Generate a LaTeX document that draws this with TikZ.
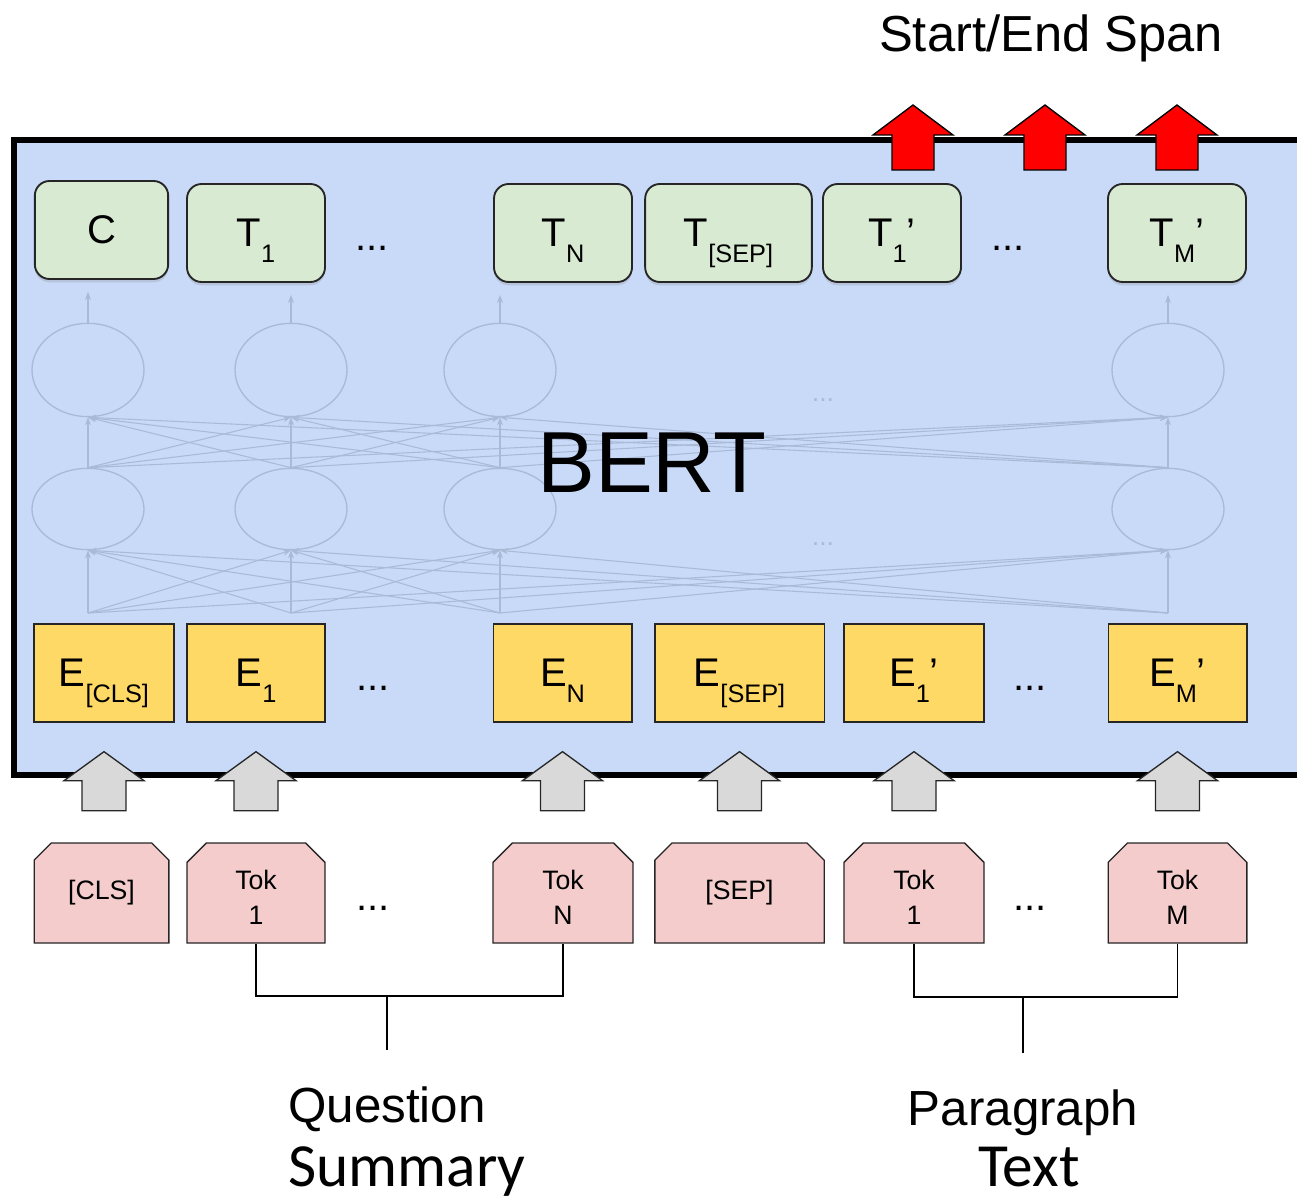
\documentclass[tikz,border=0pt]{standalone}
\usepackage{fontspec}
\setmainfont{Liberation Sans}
\newfontfamily\calibri{Carlito}
\usetikzlibrary{arrows.meta,calc,shapes.geometric,shapes.misc,shadows}
\definecolor{bertblue}{HTML}{C9DAF8}
\definecolor{outgreen}{HTML}{D9EAD3}
\definecolor{embyellow}{HTML}{FFD966}
\definecolor{tokpink}{HTML}{F4CCCC}
\definecolor{arrowgrey}{HTML}{D9D9D9}
\definecolor{faint}{HTML}{A9BAD7}
\newcommand{\lsub}[2]{#1\raisebox{-12pt}[0pt][0pt]{\fontsize{19}{22}\selectfont #2}}
\newcommand{\lsubp}[2]{#1\raisebox{-12pt}[0pt][0pt]{\fontsize{19}{22}\selectfont #2}’}
\newcommand{\toklbl}[1]{\raisebox{-5.25pt}[\height][\depth]{\begin{tabular}{@{}c@{}}Tok\\#1\end{tabular}}}
\begin{document}
\begin{tikzpicture}[x=0.75pt,y=0.75pt,yscale=-1,xscale=1,
    outbox/.style={draw=black!85,line width=1.4pt,fill=outgreen,rounded corners=11pt,minimum height=73.5pt,inner sep=0pt,
      drop shadow={shadow xshift=0pt,shadow yshift=-2.5pt,opacity=0.25},font=\fontsize{30}{36}\selectfont},
    embbox/.style={draw=black!85,line width=1pt,fill=embyellow,minimum height=73.5pt,inner sep=0pt,font=\fontsize{30}{36}\selectfont},
    tokbox/.style={draw=black!85,line width=1pt,fill=tokpink,chamfered rectangle,chamfered rectangle corners={north west,north east},
      chamfered rectangle xsep=11pt,minimum height=75pt,inner sep=0pt,align=center,font=\fontsize{20}{26}\selectfont},
    neuron/.style={ellipse,draw=faint,line width=1pt,minimum width=84pt,inner sep=0pt},
    faintarrow/.style={draw=faint,line width=0.8pt,-{Stealth[length=6pt,width=4.5pt]}},
    dots/.style={font=\fontsize{30}{36}\selectfont},
    blockarrow/.style={line width=1pt,draw=black!85,line join=miter},
    label/.style={anchor=base,font=\fontsize{37}{44}\selectfont}]
\path[use as bounding box] (0,0) rectangle (1297,1202);
\clip (0,0) rectangle (1297,1202);
\draw[line width=4.5pt,fill=bertblue] (14,140) rectangle (1340,775);

\foreach \i/\x in {1/88,2/291,3/500,4/1168}{
    \node[neuron,minimum height=70pt] (u\i) at (\x,370) {};
    \node[neuron,minimum height=61pt] (l\i) at (\x,509) {};
    \coordinate (b\i) at (\x,613);
}
\foreach \i in {1,...,4}{
    \foreach \j in {1,...,4}{
        \draw[faintarrow] (l\i.north) -- (l\j.north |- u\j.south);
        \draw[faintarrow] (b\i) -- (l\j.south);
    }
}
\node[text=faint,font=\fontsize{20}{24}\selectfont] (fdots1) at (823,400) {...};
\node[text=faint,font=\fontsize{20}{24}\selectfont] (fdots2) at (823,544) {...};
\node[font=\fontsize{65}{78}\selectfont] (bert) at (652,463) {BERT};

\node[outbox,minimum width=100pt] (tcls) at (101.5,230) {C};
\node[outbox,minimum width=103.5pt] (t1) at (256,233) {\lsub{T}{1}};
\node[outbox,minimum width=103.5pt] (tn) at (563,233) {\lsub{T}{N}};
\node[outbox,minimum width=125pt] (tsep) at (728.5,233) {\lsub{T}{[SEP]}};
\node[outbox,minimum width=103.5pt] (t1p) at (892,233) {\lsubp{T}{1}};
\node[outbox,minimum width=103.5pt] (tmp) at (1177,233) {\lsubp{T}{M}};
\draw[faintarrow,shorten >=9pt] (u1.north) -- (u1.north |- tcls.south);
\draw[faintarrow,shorten >=9pt] (u2.north) -- (u2.north |- t1.south);
\draw[faintarrow,shorten >=9pt] (u3.north) -- (u3.north |- tn.south);
\draw[faintarrow,shorten >=9pt] (u4.north) -- (u4.north |- tmp.south);

\node[embbox,minimum width=105pt] (ecls) at (104,673) {\lsub{E}{[CLS]}};
\node[embbox,minimum width=103.5pt] (e1) at (256,673) {\lsub{E}{1}};
\node[embbox,minimum width=104pt] (en) at (562.5,673) {\lsub{E}{N}};
\node[embbox,minimum width=127pt] (esep) at (739.5,673) {\lsub{E}{[SEP]}};
\node[embbox,minimum width=105pt] (e1p) at (914,673) {\lsubp{E}{1}};
\node[embbox,minimum width=104pt] (emp) at (1177.5,673) {\lsubp{E}{M}};

\node[tokbox,minimum width=101pt] (tokcls) at (101.5,893) {[CLS]};
\node[tokbox,minimum width=103.5pt] (tok1) at (256,893) {\toklbl{1}};
\node[tokbox,minimum width=105pt] (tokn) at (563,893) {\toklbl{N}};
\node[tokbox,minimum width=127pt] (toksep) at (739.5,893) {[SEP]};
\node[tokbox,minimum width=105pt] (tok1p) at (914,893) {\toklbl{1}};
\node[tokbox,minimum width=104pt] (tokm) at (1177.5,893) {\toklbl{M}};

\node[dots] (tdots1) at (372,248) {...};
\node[dots] (tdots2) at (1008,248) {...};
\node[dots] (edots1) at (373,688) {...};
\node[dots] (edots2) at (1030,688) {...};
\node[dots] (kdots1) at (373,908) {...};
\node[dots] (kdots2) at (1030,908) {...};

\foreach \e in {ecls,e1,en,esep,e1p,emp}
    \draw[blockarrow,fill=arrowgrey] ($(\e.south)+(0,29)$) -- ++(40,29) -- ++(-18,0) -- ++(0,30) -- ++(-44,0) -- ++(0,-30) -- ++(-18,0) -- cycle;
\foreach \cx in {913,1045,1177}
    \draw[blockarrow,draw=black,fill=red] (\cx,105) -- ++(40,30) -- ++(-19,0) -- ++(0,35) -- ++(-42,0) -- ++(0,-35) -- ++(-19,0) -- cycle;

\coordinate (qjoin) at (387,996);
\coordinate (qend) at (387,1050);
\coordinate (pjoin) at (1023,997);
\coordinate (pend) at (1023,1053);
\draw[line width=1.2pt] (tok1.south) |- (qjoin) -| (tokn.south);
\draw[line width=1.2pt] (qjoin) -- (qend);
\draw[line width=1.2pt] (tok1p.south) |- (pjoin) -| (tokm.south);
\draw[line width=1.2pt] (pjoin) -- (pend);

\node[label,font=\fontsize{38}{46}\selectfont] (span) at (1051,52) {Start/End Span};
\node[label] (question) at (387,1122) {Question};
\node[label,font=\calibri\fontsize{46}{55}\selectfont] (summary) at (407,1186) {Summary};
\node[label] (paragraph) at (1023,1125) {Paragraph};
\node[label,font=\calibri\fontsize{46}{55}\selectfont] (textlbl) at (1029,1186) {Text};
\end{tikzpicture}
\end{document}
